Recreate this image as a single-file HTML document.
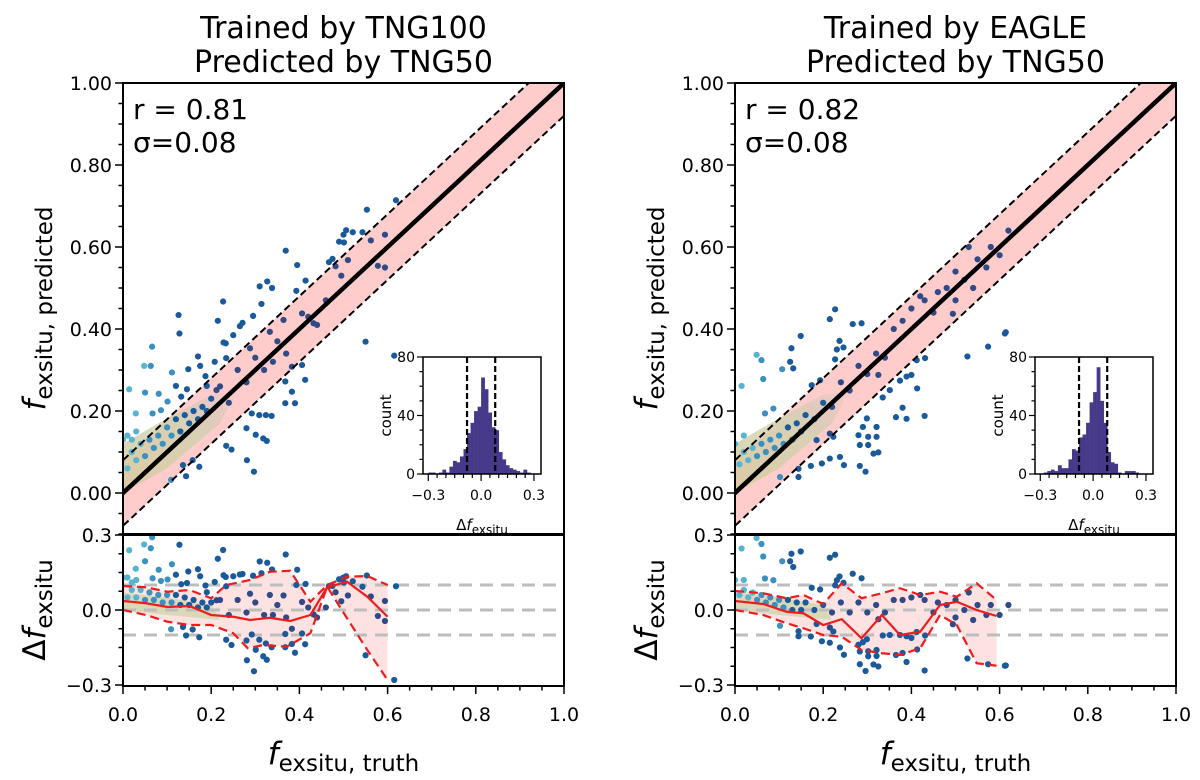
<!DOCTYPE html>
<html><head><meta charset="utf-8">
<style>
html,body{margin:0;padding:0;background:#fff;}
svg{display:block;font-family:"DejaVu Sans","Liberation Sans",sans-serif;}
</style></head>
<body>
<svg id="fig" width="1200" height="780" viewBox="0 0 1200 780" xmlns="http://www.w3.org/2000/svg">
<defs>
<clipPath id="clipTL"><rect x="123" y="83" width="441" height="451"/></clipPath>
<clipPath id="clipBL"><rect x="123" y="535" width="441" height="151"/></clipPath>
<clipPath id="clipTR"><rect x="735" y="83" width="441" height="451"/></clipPath>
<clipPath id="clipBR"><rect x="735" y="535" width="441" height="151"/></clipPath>
<linearGradient id="blob" x1="0" y1="1" x2="1" y2="0">
<stop offset="0" stop-color="#d9c9a0" stop-opacity="0.9"/>
<stop offset="0.6" stop-color="#c9d3aa" stop-opacity="0.7"/>
<stop offset="1" stop-color="#9ab7a8" stop-opacity="0"/>
</linearGradient>
</defs>
</svg>
<script>
// ---------------- data ----------------
const leftPoints = [[0.227,0.467],[0.314,0.461],[0.126,0.434],[0.215,0.42],[0.295,0.432],[0.128,0.389],[0.066,0.357],[0.271,0.415],[0.265,0.407],[0.25,0.385],[0.048,0.31],[0.063,0.31],[0.111,0.294],[0.148,0.302],[0.208,0.32],[0.228,0.367],[0.233,0.365],[0.234,0.329],[0.17,0.333],[0.175,0.31],[0.014,0.253],[0.05,0.245],[0.081,0.242],[0.12,0.261],[0.145,0.253],[0.187,0.285],[0.19,0.261],[0.212,0.251],[0.029,0.194],[0.067,0.194],[0.086,0.202],[0.101,0.223],[0.132,0.235],[0.292,0.194],[0.309,0.19],[0.324,0.19],[0.337,0.188],[0.28,0.158],[0.301,0.142],[0.318,0.133],[0.326,0.127],[0.234,0.115],[0.246,0.106],[0.281,0.08],[0.297,0.052],[0.143,0.041],[0.109,0.032],[0.136,0.068],[0.173,0.064],[0.158,0.08],[0.368,0.272],[0.383,0.308],[0.406,0.312],[0.413,0.276],[0.383,0.247],[0.368,0.219],[0.39,0.219],[0.55,0.369],[0.432,0.414],[0.406,0.438],[0.364,0.422],[0.333,0.393],[0.288,0.353],[0.619,0.714],[0.553,0.691],[0.594,0.63],[0.562,0.616],[0.506,0.641],[0.521,0.636],[0.543,0.636],[0.5,0.63],[0.49,0.613],[0.501,0.611],[0.369,0.591],[0.51,0.568],[0.475,0.571],[0.467,0.563],[0.482,0.553],[0.578,0.554],[0.594,0.55],[0.395,0.556],[0.495,0.53],[0.414,0.518],[0.327,0.516],[0.31,0.504],[0.338,0.5],[0.393,0.493],[0.615,0.335],[0.01,0.06],[0.02,0.1],[0.03,0.08],[0.04,0.12],[0.05,0.09],[0.06,0.13],[0.07,0.11],[0.08,0.14],[0.09,0.12],[0.1,0.16],[0.11,0.14],[0.12,0.18],[0.13,0.15],[0.14,0.19],[0.15,0.17],[0.16,0.2],[0.17,0.18],[0.18,0.21],[0.19,0.2],[0.2,0.23],[0.0,0.13],[0.01,0.14],[0.02,0.13],[0.03,0.15],[0.22,0.26],[0.24,0.22],[0.26,0.3],[0.28,0.27],[0.3,0.33],[0.32,0.3],[0.35,0.37],[0.37,0.34],[0.42,0.43],[0.44,0.41],[0.46,0.47],[0.34,0.32]];
const rightPoints = [[0.227,0.448],[0.215,0.424],[0.267,0.412],[0.287,0.414],[0.149,0.383],[0.128,0.353],[0.049,0.337],[0.06,0.324],[0.125,0.32],[0.107,0.302],[0.132,0.304],[0.064,0.278],[0.015,0.261],[0.087,0.206],[0.068,0.194],[0.193,0.275],[0.174,0.263],[0.231,0.35],[0.246,0.355],[0.237,0.371],[0.227,0.326],[0.325,0.288],[0.351,0.251],[0.335,0.233],[0.38,0.208],[0.413,0.255],[0.374,0.274],[0.389,0.284],[0.4,0.288],[0.431,0.329],[0.412,0.324],[0.527,0.333],[0.574,0.357],[0.614,0.392],[0.494,0.437],[0.43,0.188],[0.365,0.185],[0.389,0.181],[0.321,0.161],[0.299,0.182],[0.29,0.161],[0.28,0.141],[0.302,0.137],[0.321,0.137],[0.283,0.117],[0.302,0.117],[0.314,0.096],[0.325,0.099],[0.283,0.066],[0.296,0.052],[0.247,0.068],[0.238,0.088],[0.215,0.084],[0.197,0.072],[0.172,0.066],[0.144,0.059],[0.144,0.039],[0.102,0.039],[0.185,0.129],[0.215,0.145],[0.223,0.137],[0.612,0.389],[0.58,0.6],[0.57,0.55],[0.55,0.57],[0.52,0.52],[0.5,0.54],[0.48,0.5],[0.46,0.49],[0.45,0.44],[0.43,0.47],[0.4,0.45],[0.62,0.64],[0.6,0.58],[0.53,0.6],[0.42,0.48],[0.38,0.42],[0.36,0.4],[0.5,0.47],[0.54,0.5],[0.01,0.07],[0.02,0.1],[0.03,0.08],[0.04,0.11],[0.05,0.09],[0.06,0.12],[0.07,0.1],[0.08,0.13],[0.09,0.11],[0.1,0.14],[0.11,0.12],[0.12,0.16],[0.13,0.13],[0.14,0.17],[0.15,0.15],[0.16,0.19],[0.18,0.18],[0.2,0.22],[0.22,0.21],[0.24,0.27],[0.26,0.25],[0.28,0.31],[0.3,0.29],[0.32,0.34],[0.34,0.33],[0.0,0.12],[0.02,0.14]];
const histBinCenters = [-0.29,-0.27,-0.25,-0.23,-0.21,-0.19,-0.17,-0.15,-0.13,-0.11,-0.09,-0.07,-0.05,-0.03,-0.01,0.01,0.03,0.05,0.07,0.09,0.11,0.13,0.15,0.17,0.19,0.21,0.23,0.25,0.27];
const leftHistCounts = [1,1,0,1,3,1,5,9,8,12,17,28,35,43,46,66,58,42,32,30,15,10,6,4,3,2,1,3,1];
const rightHistCounts = [0,1,2,3,2,6,4,4,10,17,16,25,27,35,49,56,73,50,35,15,8,7,1,0,2,2,2,1,0];
const leftMedX = [0,0.052,0.101,0.151,0.2,0.25,0.288,0.333,0.379,0.425,0.463,0.508,0.554,0.6];
const leftMed = [0.036,0.027,0.012,0.016,-0.02,-0.027,-0.04,-0.031,-0.044,-0.02,0.091,0.113,0.053,-0.027];
const leftUpX = [0,0.052,0.101,0.151,0.2,0.234,0.288,0.333,0.379,0.425,0.463,0.508,0.554,0.6];
const leftUp = [0.096,0.091,0.073,0.08,0.047,0.1,0.12,0.153,0.157,0.033,0.1,0.133,0.136,0.1];
const leftLoX = [0,0.052,0.101,0.151,0.2,0.25,0.283,0.318,0.371,0.425,0.463,0.508,0.554,0.6];
const leftLo = [0,-0.02,-0.047,-0.06,-0.06,-0.093,-0.153,-0.14,-0.147,-0.093,0.093,-0.033,-0.16,-0.28];
const rightMedX = [0,0.064,0.117,0.155,0.2,0.242,0.287,0.333,0.374,0.42,0.465,0.503,0.548,0.593];
const rightMed = [0.036,0.024,-0.007,-0.013,-0.06,-0.037,-0.113,-0.02,-0.1,-0.087,0.02,0.033,0,-0.024];
const rightUp = [0.076,0.067,0.047,0.06,0.024,0.107,0.047,0.067,0.087,0.06,0.073,0.053,0.107,0.04];
const rightLo = [0,-0.02,-0.053,-0.073,-0.1,-0.107,-0.16,-0.173,-0.18,-0.153,-0.02,-0.06,-0.213,-0.223];
const xTicks = [0,0.2,0.4,0.6,0.8,1.0];
const xTickLabels = ["0.0","0.2","0.4","0.6","0.8","1.0"];
const yTopTicks = [0,0.2,0.4,0.6,0.8,1.0];
const yTopLabels = ["0.00","0.20","0.40","0.60","0.80","1.00"];
const yBotTicks = [-0.3,0,0.3];
const yBotLabels = ["\u22120.3","0.0","0.3"];
const histYTicks = [0,40,80];
const histXTicks = [-0.3,0,0.3];
const histXLabels = ["\u22120.3","0.0","0.3"];

// ---------------- drawing ----------------
const NS = "http://www.w3.org/2000/svg";
const svg = document.getElementById('fig');
function mk(tag, attrs, parent){
  const e = document.createElementNS(NS, tag);
  for (const k in attrs) e.setAttribute(k, attrs[k]);
  (parent||svg).appendChild(e);
  return e;
}

function panel(o){
  const x0=o.x0, x1=o.x1;
  const X = v => x0 + v*(x1-x0);
  const YT = v => 493 - v*410;
  const YB = r => 610 - r*250;
  const g = mk('g',{});
  
  

  const t = mk('text',{x:(x0+x1)/2, y:38, 'text-anchor':'middle','font-size':30}, g);
  
  
  t.textContent = o.title1;
  const t2 = mk('text',{x:(x0+x1)/2, y:72, 'text-anchor':'middle','font-size':30}, g);
  
  
  t2.textContent = o.title2;

  const top = mk('g',{'clip-path':'url(#'+o.clipT+')'}, g);
  
  
  const s=0.08;
  const band = mk('polygon',{points:`${X(-0.2)},${YT(-0.2+s)} ${X(1.2)},${YT(1.2+s)} ${X(1.2)},${YT(1.2-s)} ${X(-0.2)},${YT(-0.2-s)}`, fill:'#ffcccc'}, top);
  
  
  const blob = mk('polygon',{points:`${X(0)},${YT(0.12)} ${X(0.08)},${YT(0.17)} ${X(0.2)},${YT(0.24)} ${X(0.26)},${YT(0.25)} ${X(0.22)},${YT(0.17)} ${X(0.1)},${YT(0.06)} ${X(0)},${YT(0.0)}`, fill:'url(#blob)'}, top);
  
  
  o.points.forEach(p=>{
    const c = mk('circle',{cx:X(p[0]), cy:YT(p[1]), r:3.1, fill: colorFor(p[0], p[1])}, top);
    
    
  });
  for (const d of [s,-s]){
    const l = mk('line',{x1:X(-0.2),y1:YT(-0.2+d),x2:X(1.2),y2:YT(1.2+d),stroke:'#000','stroke-width':2,'stroke-dasharray':'7,4'}, top);
    
    
  }
  const one = mk('line',{x1:X(-0.2),y1:YT(-0.2),x2:X(1.2),y2:YT(1.2),stroke:'#000','stroke-width':4.5}, top);
  
  

  const r1 = mk('text',{x:x0+10,y:119,'font-size':28}, g);
  
  
  r1.textContent = o.rText;
  const r2 = mk('text',{x:x0+10,y:152,'font-size':28}, g);
  
  
  r2.textContent = 'σ=0.08';

  for (let v=-0.1; v<=1.0001; v+=0.05){
    const major = Math.abs(Math.round(v*5)-v*5)<1e-6;
    mk('line',{x1:x0, x2:x0-(major?8:4.5), y1:YT(v), y2:YT(v), stroke:'#000','stroke-width':1.5}, g);
  }
  yTopTicks.forEach((v,i)=>{
    const tl = mk('text',{x:x0-11,y:YT(v)+7,'text-anchor':'end','font-size':19}, g);
    
    
    tl.textContent = yTopLabels[i];
  });
  mk('rect',{x:x0,y:83,width:x1-x0,height:451,fill:'none',stroke:'#000','stroke-width':2}, g);

  const hx0=o.hx0, hx1=o.hx0+118, hy0=357, hy1=474;
  const HX = v => hx0 + (v+0.33)/0.67*(hx1-hx0);
  const HY = c => hy1 - c/80*(hy1-hy0);
  const ins = mk('g',{}, g);
  
  
  mk('rect',{x:hx0,y:hy0,width:hx1-hx0,height:hy1-hy0,fill:'#fff'}, ins);
  histBinCenters.forEach((c,i)=>{
    const n=o.hist[i]; if(!n) return;
    const b = mk('rect',{x:HX(c-0.01),y:HY(n),width:HX(c+0.01)-HX(c-0.01)+0.3,height:hy1-HY(n),fill:'#46398a'}, ins);
    
    
  });
  for (const d of [-0.08,0.08]){
    mk('line',{x1:HX(d),x2:HX(d),y1:hy0,y2:hy1,stroke:'#000','stroke-width':2.2,'stroke-dasharray':'6,3'}, ins);
  }
  mk('rect',{x:hx0,y:hy0,width:hx1-hx0,height:hy1-hy0,fill:'none',stroke:'#000','stroke-width':1.5}, ins);
  for (let c=0;c<=80;c+=10){
    const major = c%40===0;
    mk('line',{x1:hx0,x2:hx0-(major?6:3.5),y1:HY(c),y2:HY(c),stroke:'#000','stroke-width':1.2}, ins);
  }
  histYTicks.forEach(c=>{
    const tl = mk('text',{x:hx0-8,y:HY(c)+5,'text-anchor':'end','font-size':14}, ins);
    
    
    tl.textContent = c;
  });
  for (let v=-0.3; v<=0.3001; v+=0.05){
    const major = Math.abs(Math.round(v/0.3)-v/0.3)<1e-6;
    mk('line',{x1:HX(v),x2:HX(v),y1:hy1,y2:hy1+(major?7:4),stroke:'#000','stroke-width':1.2}, ins);
  }
  histXTicks.forEach((v,i)=>{
    const tl = mk('text',{x:HX(v),y:hy1+26,'text-anchor':'middle','font-size':14}, ins);
    
    
    tl.textContent = histXLabels[i];
  });
  const cnt = mk('text',{x:0,y:0,'font-size':15,'text-anchor':'middle',transform:`translate(${hx0-32},${(hy0+hy1)/2}) rotate(-90)`}, ins);
  
  
  cnt.textContent='count';
  const hxl = mk('text',{x:(hx0+hx1)/2,y:530,'font-size':15,'text-anchor':'middle'}, ins);
  
  
  hxl.innerHTML = 'Δ<tspan font-style="italic">f</tspan><tspan font-size="12" dy="4">exsitu</tspan>';

  mk('rect',{x:x0,y:535,width:x1-x0,height:151,fill:'#fff'}, g);
  const bot = mk('g',{'clip-path':'url(#'+o.clipB+')'}, g);
  
  
  const fillPts = o.upX.map((v,i)=>X(v)+','+YB(o.up[i])).concat(o.loX.map((v,i)=>X(v)+','+YB(o.lo[i])).reverse()).join(' ');
  const rf = mk('polygon',{points:fillPts, fill:'#fde2e2'}, bot);
  
  
  const rblob = mk('polygon',{points:`${X(0)},${YB(0.07)} ${X(0.1)},${YB(0.05)} ${X(0.2)},${YB(0.02)} ${X(0.22)},${YB(-0.04)} ${X(0.1)},${YB(-0.02)} ${X(0)},${YB(0.0)}`, fill:'#cfd4a8', 'fill-opacity':0.75}, bot);
  
  
  for (const v of [0.1,0,-0.1]){
    const gl = mk('line',{x1:x0,x2:x1,y1:YB(v),y2:YB(v),stroke:'#bdbdbd','stroke-width':3,'stroke-dasharray':'13,8'}, bot);
    
    
  }
  o.points.forEach(p=>{
    const c = mk('circle',{cx:X(p[0]), cy:YB(p[1]-p[0]), r:3.1, fill: colorFor(p[0], p[1])}, bot);
    
    
  });
  const lu = mk('polyline',{points:o.upX.map((v,i)=>X(v)+','+YB(o.up[i])).join(' '),fill:'none',stroke:'#ee1c1c','stroke-width':2.2,'stroke-dasharray':'9,5'}, bot);
  
  
  const ll = mk('polyline',{points:o.loX.map((v,i)=>X(v)+','+YB(o.lo[i])).join(' '),fill:'none',stroke:'#ee1c1c','stroke-width':2.2,'stroke-dasharray':'9,5'}, bot);
  
  
  const lm = mk('polyline',{points:o.medX.map((v,i)=>X(v)+','+YB(o.med[i])).join(' '),fill:'none',stroke:'#ee1c1c','stroke-width':2.2}, bot);
  
  
  mk('rect',{x:x0,y:535,width:x1-x0,height:151,fill:'none',stroke:'#000','stroke-width':2}, g);
  for (let v=-0.3; v<=0.3001; v+=0.075){
    const major = Math.abs(Math.round(v/0.3)-v/0.3)<1e-6;
    mk('line',{x1:x0,x2:x0-(major?8:4.5),y1:YB(v),y2:YB(v),stroke:'#000','stroke-width':1.5}, g);
  }
  yBotTicks.forEach((v,i)=>{
    const tl = mk('text',{x:x0-11,y:YB(v)+7,'text-anchor':'end','font-size':19}, g);
    
    
    tl.textContent = yBotLabels[i];
  });
  for (let v=0; v<=1.0001; v+=0.05){
    const major = Math.abs(Math.round(v*5)-v*5)<1e-6;
    mk('line',{x1:X(v),x2:X(v),y1:686,y2:686+(major?8:4.5),stroke:'#000','stroke-width':1.5}, g);
  }
  xTicks.forEach((v,i)=>{
    const tl = mk('text',{x:X(v),y:721,'text-anchor':'middle','font-size':19}, g);
    
    
    tl.textContent = xTickLabels[i];
  });
  const xl = mk('text',{x:(x0+x1)/2,y:764,'text-anchor':'middle','font-size':31}, g);
  
  
  xl.innerHTML = '<tspan font-style="italic">f</tspan><tspan font-size="23" dy="7">exsitu, truth</tspan>';
  const yl = mk('text',{x:0,y:0,'text-anchor':'middle','font-size':31,transform:`translate(${x0-78},${YT(0.45)}) rotate(-90)`}, g);
  
  
  yl.innerHTML = '<tspan font-style="italic">f</tspan><tspan font-size="23" dy="7">exsitu, predicted</tspan>';
  const rl = mk('text',{x:0,y:0,'text-anchor':'middle','font-size':31,transform:`translate(${x0-78},${YB(0)}) rotate(-90)`}, g);
  
  
  rl.innerHTML = 'Δ<tspan font-style="italic">f</tspan><tspan font-size="23" dy="7">exsitu</tspan>';
}
function colorFor(x,y){
  if (x<0.05) return '#56b4cf';
  if (x<0.12) return '#3b90c0';
  if (Math.abs(y-x)<0.08 && x>0.2) return '#2f4a86';
  return '#1a5a9a';
}
panel({name:'left', x0:123, x1:564, title1:'Trained by TNG100', title2:'Predicted by TNG50', rText:'r = 0.81',
  points:leftPoints, hist:leftHistCounts, hx0:423, clipT:'clipTL', clipB:'clipBL',
  medX:leftMedX, med:leftMed, upX:leftUpX, up:leftUp, loX:leftLoX, lo:leftLo});
panel({name:'right', x0:735, x1:1176, title1:'Trained by EAGLE', title2:'Predicted by TNG50', rText:'r = 0.82',
  points:rightPoints, hist:rightHistCounts, hx0:1035, clipT:'clipTR', clipB:'clipBR',
  medX:rightMedX, med:rightMed, upX:rightMedX, up:rightUp, loX:rightMedX, lo:rightLo});
</script>
</body></html>
